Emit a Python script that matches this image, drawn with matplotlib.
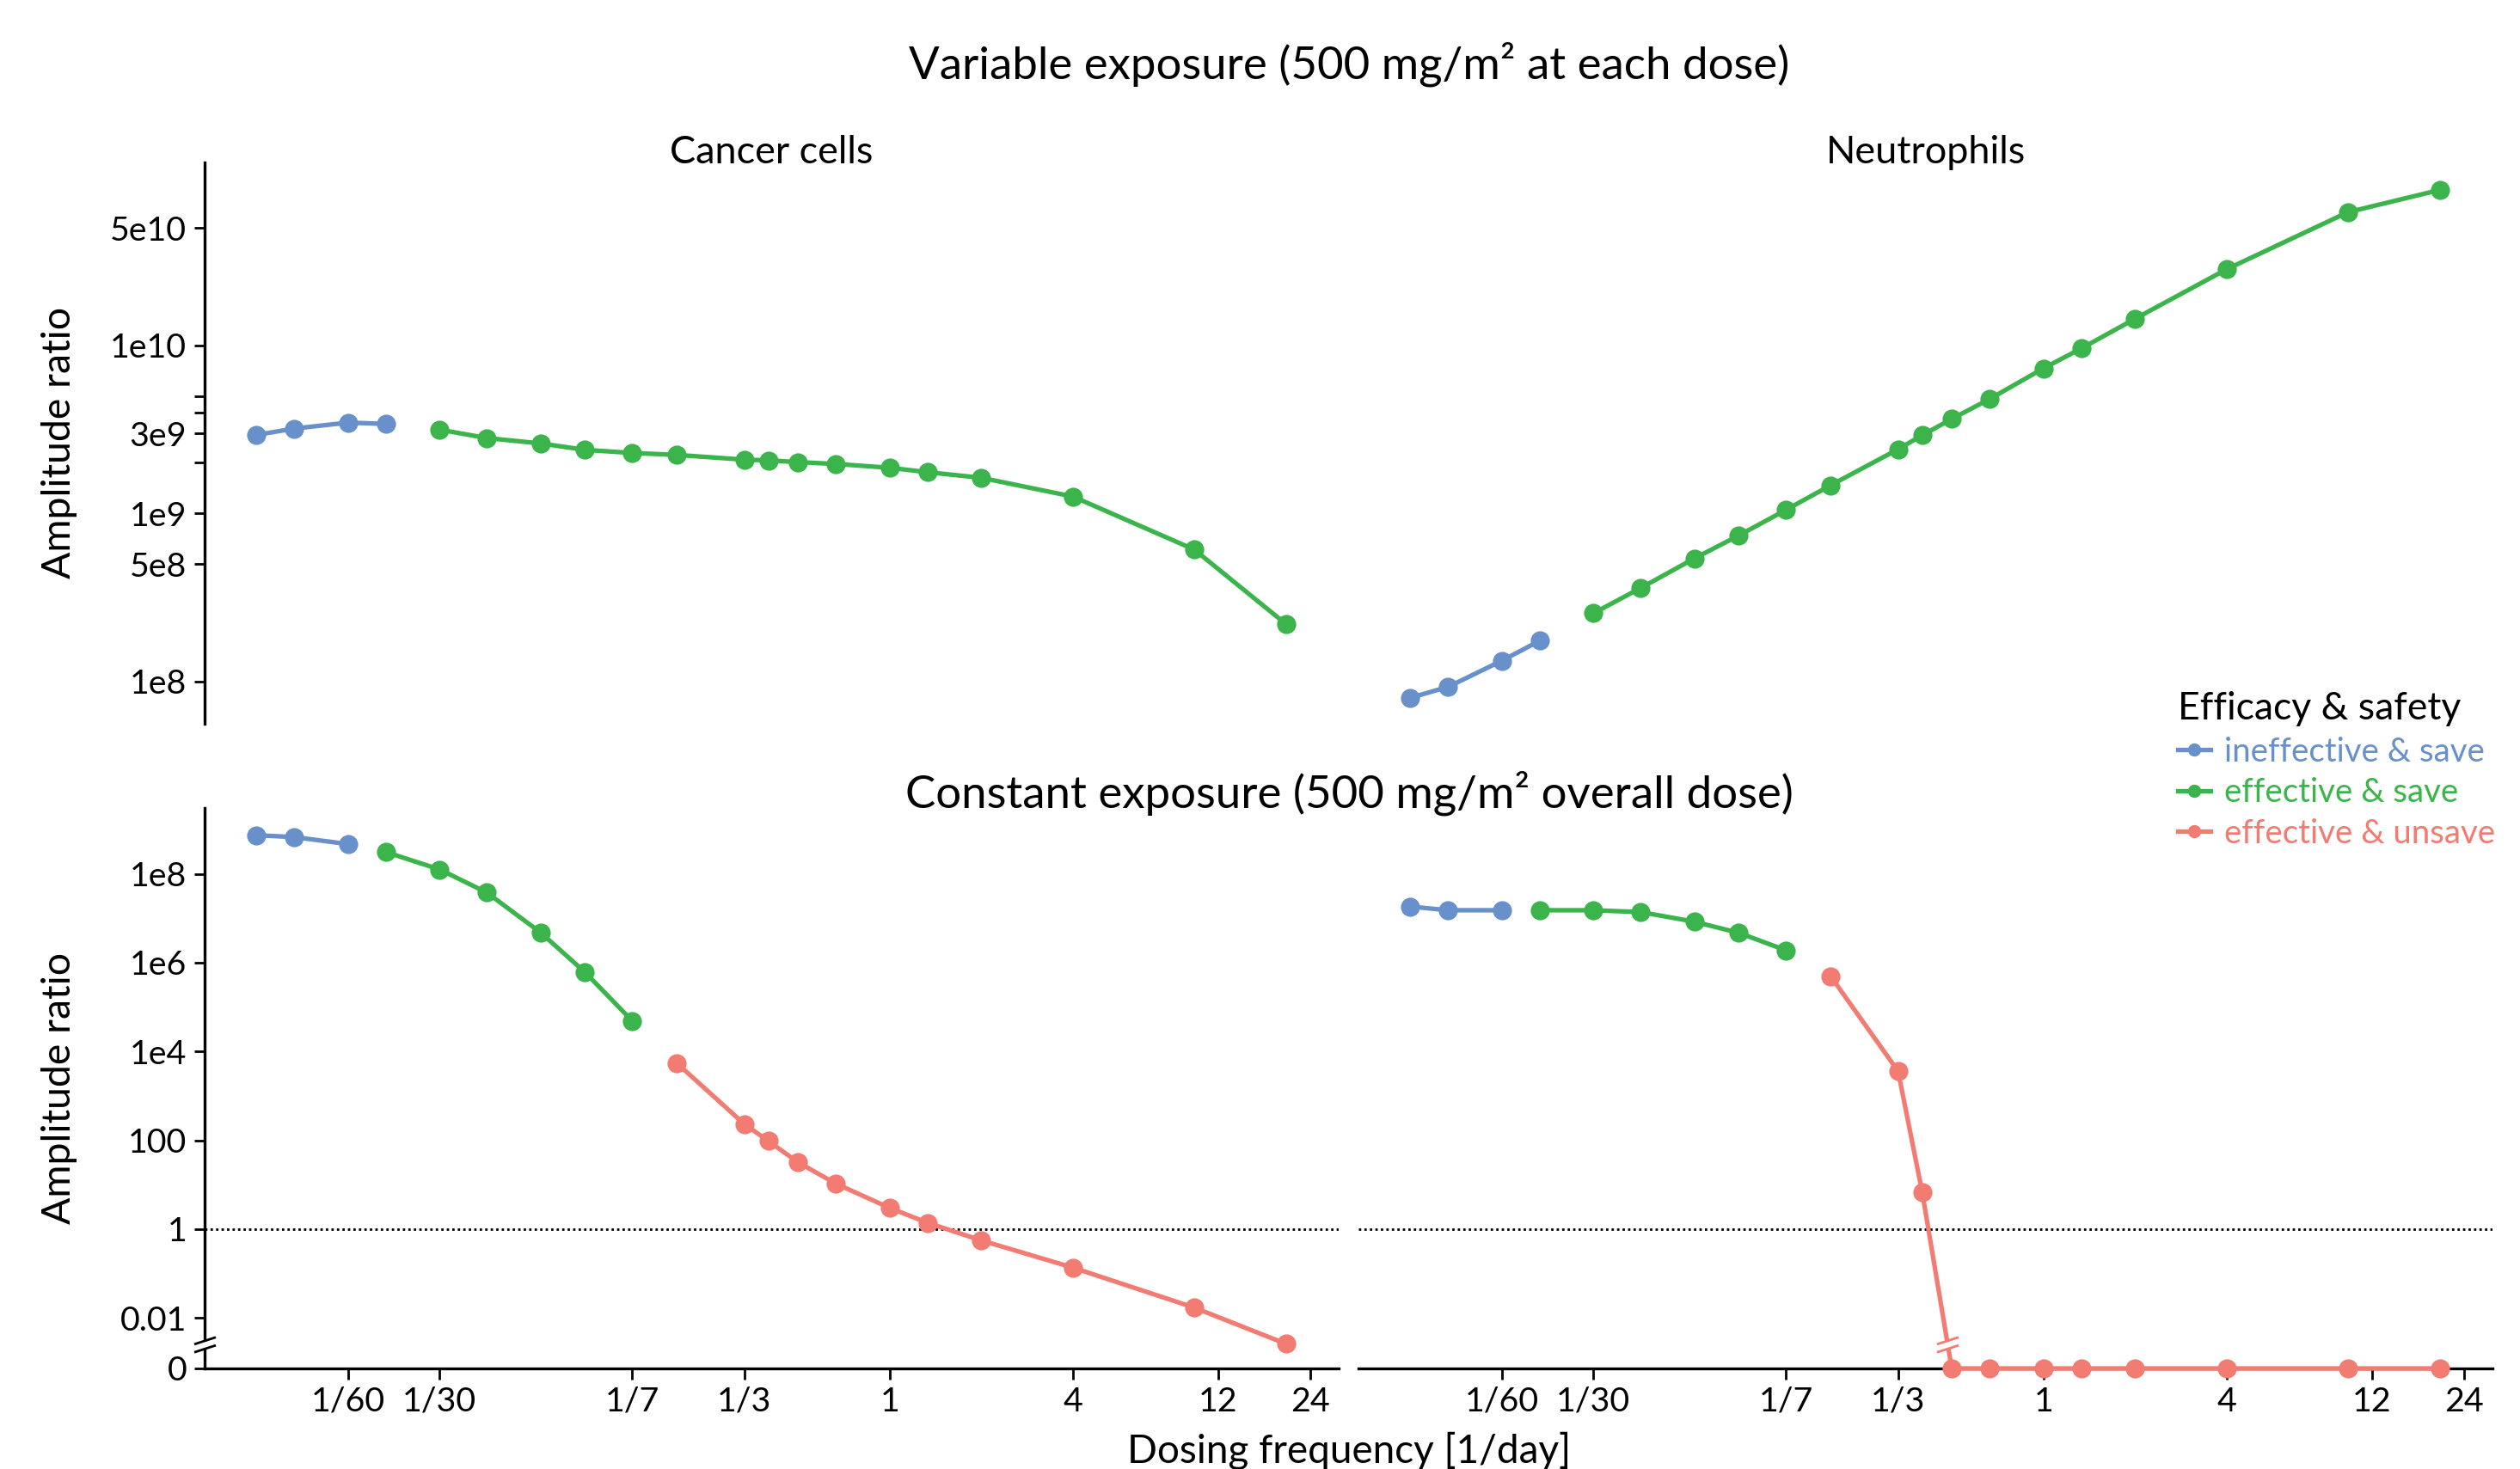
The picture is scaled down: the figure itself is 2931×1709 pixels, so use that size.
import numpy as np
import matplotlib
matplotlib.use("Agg")
import matplotlib.pyplot as plt
from matplotlib.lines import Line2D
from matplotlib.path import Path
from matplotlib.ticker import FixedLocator, FixedFormatter, NullFormatter

# dosing frequency [1/day]
freq = [1/120, 1/90, 1/60, 1/45, 1/30, 1/21, 1/14, 1/10, 1/7, 1/5, 1/3,
        1/2.5, 1/2, 1/1.5, 1, 4/3, 2, 4, 10, 20]

# variable exposure (500 mg/m2 at each dose)
var_cancer = [2.93e9, 3.2e9, 3.47e9, 3.41e9, 3.15e9, 2.81e9, 2.61e9, 2.39e9,
              2.29e9, 2.23e9, 2.09e9, 2.07e9, 2.02e9, 1.97e9, 1.87e9, 1.76e9,
              1.63e9, 1.26e9, 6.1e8, 2.2e8]
var_neutro = [8.0e7, 9.3e7, 1.33e8, 1.75e8, 2.55e8, 3.6e8, 5.4e8, 7.4e8,
              1.05e9, 1.47e9, 2.41e9, 2.92e9, 3.65e9, 4.8e9, 7.3e9, 9.6e9,
              1.44e10, 2.84e10, 6.2e10, 8.4e10]
var_status = ["ineffective & save"] * 4 + ["effective & save"] * 16

# constant exposure (500 mg/m2 overall dose)
const_cancer = [7.45e8, 6.75e8, 4.7e8, 3.1e8, 1.26e8, 3.8e7, 4.8e6, 6.1e5,
                4.9e4, 5.5e3, 232, 96, 32, 10.5, 3.0, 1.38, 0.555, 0.135,
                0.017, 0.0026]
const_neutro = [1.84e7, 1.52e7, 1.52e7, 1.52e7, 1.52e7, 1.38e7, 8.4e6, 4.7e6,
                1.9e6, 5.0e5, 3.6e3, 6.75, 0, 0, 0, 0, 0, 0, 0, 0]
const_status = (["ineffective & save"] * 3 + ["effective & save"] * 6
                + ["effective & unsave"] * 11)

status_names = ["ineffective & save", "effective & save", "effective & unsave"]
colors = {"ineffective & save": "#6890CB",
          "effective & save": "#3BB44C",
          "effective & unsave": "#F27B72"}

xticks = [1/60, 1/30, 1/7, 1/3, 1, 4, 12, 24]
xticklabels = ["1/60", "1/30", "1/7", "1/3", "1", "4", "12", "24"]

plt.rcParams["font.family"] = ["Lato", "DejaVu Sans"]

W, H = 2931, 1709
fig = plt.figure(figsize=(W / 200, H / 200), dpi=200)

def fx(px):
    return px / W

def fy(py):
    return 1 - py / H

ax_w = fx(1557 - 238)
ax_tl = fig.add_axes([fx(238), fy(842), ax_w, fy(189) - fy(842)])
ax_tr = fig.add_axes([fx(1580), fy(842), ax_w, fy(189) - fy(842)])
ax_bl = fig.add_axes([fx(238), fy(1592), ax_w, fy(940) - fy(1592)])
ax_br = fig.add_axes([fx(1580), fy(1592), ax_w, fy(940) - fy(1592)])

ZERO_POS = -3.14

def fwd(v):
    v = np.asarray(v, dtype=float)
    out = np.full(v.shape, ZERO_POS)
    pos = v > 0
    out[pos] = np.log10(v[pos])
    return out

def inv(t):
    return np.power(10.0, t)

def draw(ax, y, status):
    for name in status_names:
        idx = [i for i, s in enumerate(status) if s == name]
        if idx:
            ax.plot([freq[i] for i in idx], [y[i] for i in idx],
                    color=colors[name], marker="o", ms=7, lw=1.9,
                    clip_on=False, zorder=4)

for ax in (ax_tl, ax_tr, ax_bl, ax_br):
    ax.set_xscale("log")
    ax.set_xlim(0.00564, 29.8)
    for s in ax.spines.values():
        s.set_linewidth(1.2)
    ax.spines["top"].set_visible(False)
    ax.spines["right"].set_visible(False)
    ax.tick_params(axis="both", which="major", length=4.5, width=1.0,
                   labelsize=14.2, pad=3)
    ax.tick_params(axis="both", which="minor", length=4.5, width=1.0)
    ax.xaxis.set_minor_locator(FixedLocator([]))

# top row
for ax in (ax_tl, ax_tr):
    ax.set_yscale("log")
    ax.set_ylim(10**7.749, 10**11.088)
    ax.spines["bottom"].set_visible(False)
    ax.set_xticks([])
ax_tl.yaxis.set_major_locator(FixedLocator([1e8, 5e8, 1e9, 3e9, 1e10, 5e10]))
ax_tl.yaxis.set_major_formatter(FixedFormatter(["1e8", "5e8", "1e9", "3e9", "1e10", "5e10"]))
ax_tl.yaxis.set_minor_locator(FixedLocator([2e9, 4e9, 5e9]))
ax_tl.yaxis.set_minor_formatter(NullFormatter())
ax_tr.spines["left"].set_visible(False)
ax_tr.set_yticks([])
ax_tr.yaxis.set_minor_locator(FixedLocator([]))

draw(ax_tl, var_cancer, var_status)
draw(ax_tr, var_neutro, var_status)

# bottom row
for ax in (ax_bl, ax_br):
    ax.set_yscale("function", functions=(fwd, inv))
    ax.set_ylim(0, 10**9.485)
    ax.set_xticks(xticks)
    ax.set_xticklabels(xticklabels)
    ax.axhline(1, color="black", lw=1.0, ls=(0, (1, 1.3)), zorder=2)
ax_bl.yaxis.set_major_locator(FixedLocator([0, 0.01, 1, 100, 1e4, 1e6, 1e8]))
ax_bl.yaxis.set_major_formatter(FixedFormatter(["0", "0.01", "1", "100", "1e4", "1e6", "1e8"]))
ax_bl.yaxis.set_minor_locator(FixedLocator([]))
ax_br.spines["left"].set_visible(False)
ax_br.set_yticks([])
ax_br.yaxis.set_minor_locator(FixedLocator([]))

draw(ax_bl, const_cancer, const_status)
draw(ax_br, const_neutro, const_status)

# break marks
brk = Path([(-1, -0.7), (1, -0.05), (-1, 0.05), (1, 0.7)],
           [Path.MOVETO, Path.LINETO, Path.MOVETO, Path.LINETO])
y_brk = 10**-2.6
ax_bl.plot([0], [y_brk], transform=ax_bl.get_yaxis_transform(), marker="s",
           ms=3, mfc="white", mec="none", ls="none", clip_on=False, zorder=6)
ax_bl.plot([0], [y_brk], transform=ax_bl.get_yaxis_transform(), marker=brk,
           ms=9, mec="black", mew=1.0, ls="none", clip_on=False, zorder=7)

i0 = const_neutro.index(0)
ya, yb = np.log10(const_neutro[i0 - 1]), ZERO_POS
t = (ya - np.log10(y_brk)) / (ya - yb)
xb = 10**(np.log10(freq[i0 - 1]) + t * (np.log10(freq[i0]) - np.log10(freq[i0 - 1])))
ax_br.plot([xb], [y_brk], marker="s", ms=3, mfc="white", mec="none",
           ls="none", clip_on=False, zorder=6)
ax_br.plot([xb], [y_brk], marker=brk, ms=9, mec=colors["effective & unsave"],
           mew=1.0, ls="none", clip_on=False, zorder=7)

# texts
cx = fx((238 + 2900) / 2)
fig.text(cx, fy(75), "Variable exposure (500 mg/m² at each dose)",
         ha="center", va="center", fontsize=19)
fig.text(cx, fy(923), "Constant exposure (500 mg/m² overall dose)",
         ha="center", va="center", fontsize=19)
fig.text(fx(897), fy(178), "Cancer cells", ha="center", va="center", fontsize=16.2)
fig.text(fx(2240), fy(178), "Neutrophils", ha="center", va="center", fontsize=16.2)
fig.text(fx(69), fy(515), "Amplitude ratio", rotation=90, ha="center",
         va="center", fontsize=16.7)
fig.text(fx(69), fy(1266), "Amplitude ratio", rotation=90, ha="center",
         va="center", fontsize=16.7)
fig.text(cx, fy(1688), "Dosing frequency [1/day]", ha="center", va="center",
         fontsize=16.5)

handles = [Line2D([], [], color=colors[n], marker="o", ms=4.5, lw=1.9)
           for n in status_names]
fig.legend(handles, status_names, title="Efficacy & safety", loc="upper left",
           bbox_to_anchor=(fx(2533), fy(804)), frameon=False,
           labelcolor="linecolor", fontsize=13.8, title_fontsize=16,
           handlelength=1.0, handletextpad=0.4, labelspacing=0.3,
           borderpad=0, borderaxespad=0, alignment="left")

fig.savefig("out.png", dpi=200)
